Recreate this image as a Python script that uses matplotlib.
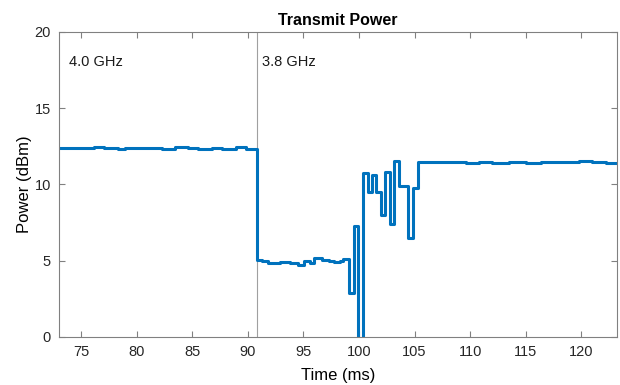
import numpy as np
import matplotlib
matplotlib.use("Agg")
from matplotlib import pyplot as plt

plt.rcParams['font.family'] = ['Liberation Sans', 'DejaVu Sans']

# step change times (ms) and power levels (dBm) -- value holds until next time
t_4g = [73.05, 74.0, 74.9, 76.2, 77.1, 78.3, 79.0, 80.3, 81.4, 82.3, 83.5,
        84.6, 85.5, 86.8, 87.7, 88.9, 89.8]
p_4g = [12.42, 12.36, 12.40, 12.44, 12.38, 12.35, 12.41, 12.36, 12.40, 12.34,
        12.45, 12.40, 12.35, 12.38, 12.33, 12.43, 12.35]

t_38g = [90.86, 91.3, 91.8, 92.9, 93.8, 94.5, 95.1, 95.6, 96.0, 96.7, 97.3,
         97.8, 98.3, 98.6]
p_38g = [5.02, 4.95, 4.88, 4.92, 4.85, 4.75, 4.95, 4.88, 5.15, 5.05, 4.98,
         4.93, 5.00, 5.12]

t_trans = [99.1, 99.55, 99.91, 100.36, 100.78, 101.14, 101.53, 101.98,
           102.34, 102.79, 103.15, 103.6, 104.4, 104.86]
p_trans = [2.88, 7.30, -1.0, 10.73, 9.49, 10.60, 9.49, 8.00, 10.79, 7.38,
           11.56, 9.90, 6.50, 9.74]

t_settle = [105.3, 106.5, 108.0, 109.6, 110.8, 112.0, 113.5, 115.0, 116.4,
            117.7, 118.5, 119.8, 121.0, 122.2, 123.2]
p_settle = [11.50, 11.45, 11.48, 11.42, 11.46, 11.43, 11.47, 11.42, 11.45,
            11.50, 11.45, 11.52, 11.47, 11.42, 11.38]

handover_t = 90.86
freq_labels = ["4.0 GHz", "3.8 GHz"]
freq_label_t = [73.9, 91.3]

t = t_4g + t_38g + t_trans + t_settle
p = p_4g + p_38g + p_trans + p_settle

fig = plt.figure(figsize=(6.2, 3.85), dpi=100)
ax = fig.add_axes([0.0956, 0.1247, 0.8994, 0.7923])

ax.axvline(handover_t, color='#a0a0a0', linewidth=0.8, zorder=1)
ax.plot(t, p, drawstyle='steps-post', color='#0072BD', linewidth=2.2, zorder=2)

for lbl, x in zip(freq_labels, freq_label_t):
    ax.text(x, 18, lbl, fontsize=10.5, va='center', ha='left', color='#1a1a1a')

ax.set_xlim(73.05, 123.2)
ax.set_ylim(0, 20)
ax.set_xticks(np.arange(75, 121, 5))
ax.set_yticks([0, 5, 10, 15, 20])

ax.set_title("Transmit Power", fontsize=11.5, fontweight='bold', pad=5)
ax.set_xlabel("Time (ms)", fontsize=12, labelpad=6)
ax.set_ylabel("Power (dBm)", fontsize=12, labelpad=2)

for s in ax.spines.values():
    s.set_color('#808080')
    s.set_linewidth(0.8)
ax.tick_params(direction='in', length=4, width=0.8, color='#808080',
               labelsize=10.5, labelcolor='#262626', top=True, right=True,
               pad=6)

fig.savefig("out.png", dpi=100)
